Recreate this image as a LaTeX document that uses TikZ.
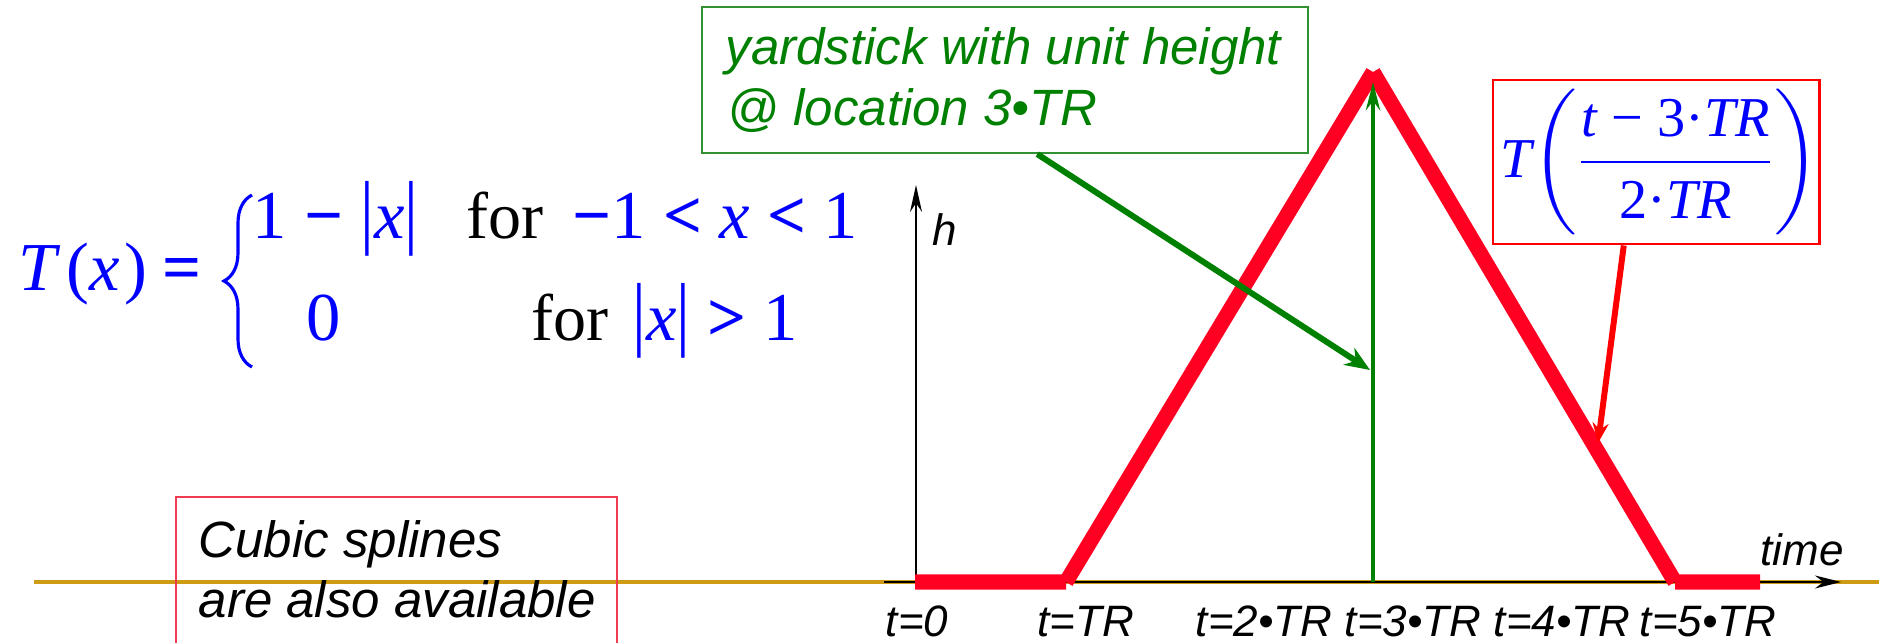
\documentclass[tikz,border=0pt]{standalone}
\usepackage{amsmath}
\usepackage{fontspec}
\setmainfont{Liberation Serif}
\newfontfamily\helv{Liberation Sans}
\usetikzlibrary{arrows.meta,decorations.pathreplacing,calc}
\definecolor{tri}{RGB}{255,0,35}
\definecolor{gold}{RGB}{205,155,20}
\definecolor{ygreen}{RGB}{0,128,0}
\definecolor{gboxc}{RGB}{50,145,50}
\definecolor{cboxc}{RGB}{240,60,80}
\definecolor{mblue}{RGB}{0,0,255}
\newcommand{\tbar}{\scalebox{1}[1.2]{|}}
\begin{document}
\begin{tikzpicture}[x=0.01cm,y=-0.01cm,
  txt/.style={inner sep=0pt, anchor=base west},
  lbl/.style={txt, font=\helv\itshape\fontsize{12.5}{15}\selectfont},
  ticklbl/.style={lbl, anchor=base},
  note/.style={txt, font=\helv\itshape\fontsize{14.5}{17}\selectfont},
  fml/.style={txt, text=mblue, font=\fontsize{19.5}{23}\selectfont},
  fmlk/.style={txt, font=\fontsize{18.8}{22}\selectfont},
  triline/.style={tri, line width=4.3pt, line cap=butt},
  boxg/.style={draw=gboxc, line width=0.6pt, inner sep=0pt, minimum width=6.06cm, minimum height=1.46cm},
  boxc/.style={draw=cboxc, line width=0.45pt, inner sep=0pt, minimum width=4.41cm, minimum height=1.63cm},
  boxf/.style={draw=red, line width=0.8pt, inner sep=0pt, minimum width=3.16cm, minimum height=1.64cm, text=mblue, font=\fontsize{16}{19}\selectfont}
]
\useasboundingbox (0,0) rectangle (1879,642);

% baseline and axes
\coordinate (goldL) at (34,582);
\coordinate (goldR) at (1879,582);
\draw[gold, line width=1.1pt] (goldL) -- (goldR);
\coordinate (tax0) at (884,582);
\coordinate (tax1) at (1841,582);
\draw[line width=0.6pt, -{Stealth[length=0.26cm,width=0.13cm]}] (tax0) -- (tax1);
\coordinate (hax0) at (916,582);
\coordinate (hax1) at (916,185);
\draw[line width=0.45pt, -{Stealth[length=0.27cm,width=0.12cm]}] (hax0) -- (hax1);

% triangle
\coordinate (A) at (915,582);
\coordinate (B) at (1066,582);
\coordinate (P) at (1373,72);
\coordinate (C) at (1675,582);
\coordinate (D) at (1760,582);
\draw[triline] (A) -- (B) (B) -- (P) (P) -- (C) (C) -- (D);

% yardstick
\coordinate (s0) at (1373,582);
\coordinate (s1) at (1373,82);
\draw[ygreen, line width=1.4pt, -{Stealth[length=0.28cm,width=0.14cm]}] (s0) -- (s1);

% formula left
\node[fml] (Tx) at (18,290) {\textit{T}\kern1.5pt(\textit{x}\kern1.5pt)};
\node[fml] (eq) at (162,290) {\textbf{=}};
\coordinate (bb) at (252,367);
\coordinate (bt) at (252,195);
\draw[mblue, line width=0.9pt, decorate, decoration={brace, amplitude=0.28cm}] (bb) -- (bt);
\node[fml] (r1a) at (252,238) {1 \textbf{−} \tbar\textit{x}\tbar};
\node[fmlk] (r1f) at (466,238) {for};
\node[fml] (r1c) at (572,238) {\textbf{−}1 \textbf{<} \textit{x} \textbf{<} 1};
\node[fml] (r2a) at (306,340) {0};
\node[fmlk] (r2f) at (531,340) {for};
\node[fml] (r2c) at (632,340) {\tbar\textit{x}\tbar\ \textbf{>} 1};

% green note
\node[boxg] (gbox) at (1005,80) {};
\node[note, text=ygreen] (g1) at (725,64) {yardstick with unit height};
\node[note, text=ygreen] (g2) at (727,125) {@ location 3•TR};
\coordinate (gstart) at ($(gbox.south west)!0.553!(gbox.south east)$);
\coordinate (gtip) at (1370,370);
\draw[ygreen, line width=1.7pt, -{Stealth[length=0.25cm,width=0.2cm]}] (gstart) -- (gtip);

% red formula box
\node[boxf] (fbox) at (1656,162) {\hspace*{0.08cm}\textit{T}\kern-1pt$\left(\dfrac{\text{\textit{t} − 3·\textit{TR}}}{\text{2·\textit{TR}}}\right)$};
\coordinate (fstart) at ($(fbox.south west)!0.402!(fbox.south east)$);
\coordinate (ftip) at (1598,443);
\draw[red, line width=1.7pt, -{Stealth[length=0.2cm,width=0.16cm]}] (fstart) -- (ftip);

% cubic splines note
\node[boxc] (cbox) at (396.5,578.5) {};
\node[note] (c1) at (198,557) {Cubic splines};
\node[note] (c2) at (198,617) {are also available};

% labels
\node[lbl] (hl) at (932,245) {h};
\node[lbl] (tm) at (1760,565) {time};
\node[ticklbl] (l0) at (917,636) {t=0};
\node[ticklbl] (l1) at (1086,636) {t=TR};
\node[ticklbl] (l2) at (1264,636) {t=2•TR};
\node[ticklbl] (l3) at (1413,636) {t=3•TR};
\node[ticklbl] (l4) at (1562,636) {t=4•TR};
\node[ticklbl] (l5) at (1708,636) {t=5•TR};
\end{tikzpicture}
\end{document}
